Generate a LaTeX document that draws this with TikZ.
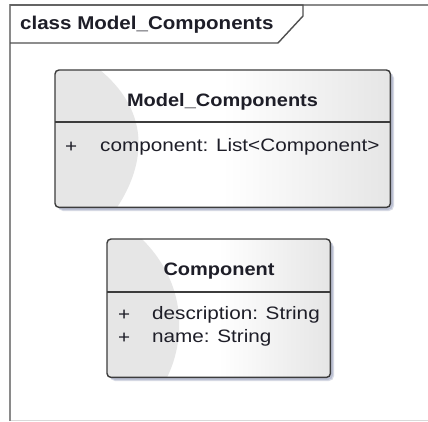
\documentclass[tikz,border=0pt]{standalone}
\usepackage{fontspec}
\usetikzlibrary{calc}
\setmainfont{Liberation Sans}[FakeStretch=1.15]
\newfontfamily\boldwide{Liberation Sans Bold}[FakeStretch=1.11]
\definecolor{framec}{HTML}{8A8A8A}
\definecolor{tabc}{HTML}{505050}
\definecolor{boxborder}{HTML}{3C3C3C}
\definecolor{shadowc}{HTML}{B4BACE}
\definecolor{glossc}{HTML}{E6E6E6}
\definecolor{textc}{HTML}{1E1E28}
\tikzset{
  umlbox/.style={left color=white, right color=black!10, middle color=white, inner sep=0pt, anchor=north west},
  boxedge/.style={draw=boxborder, line width=1.4pt, rounded corners=4pt},
  sepline/.style={draw=boxborder, line width=1.2pt},
  boxshadow/.style={fill=shadowc, rounded corners=5pt},
  gloss/.style={fill=glossc},
  titletext/.style={font=\boldwide\fontsize{18pt}{22pt}\selectfont, inner sep=0pt, text=textc},
  attrtext/.style={font=\fontsize{18pt}{22pt}\selectfont, inner sep=0pt, anchor=west, text=textc},
  labeltext/.style={font=\boldwide\fontsize{18.5pt}{22pt}\selectfont, inner sep=0pt, anchor=west, text=textc}
}
\begin{document}
\begin{tikzpicture}[x=1pt,y=-1pt]
\useasboundingbox (0,0) rectangle (428,421);
\fill[white] (0,0) rectangle (428,421);
% frame
\draw[black!15, line width=0.8pt] (10,420) -- (428,420);
\draw[framec, line width=1.6pt] (10,421) -- (10,5) -- (428,5);
\draw[tabc, line width=1.4pt] (10,5) -- (303,5) -- (303,16) -- (278,43) -- (10,43);
\node[labeltext] (lbl) at (20,25) {class Model\_Components};
% box 1
\fill[boxshadow, opacity=0.5] (58,73) rectangle (394,211);
\fill[boxshadow, opacity=0.8] (58,73) rectangle (393,210);
\node[umlbox, rounded corners=4pt, minimum width=335pt, minimum height=137pt] (mc) at (55,70) {};
\begin{scope}
  \clip[rounded corners=4pt] (mc.north west) rectangle (mc.south east);
  \fill[gloss] (mc.north west) -- ++(45,0) .. controls ++(60,50) and ++(20,-30) .. ($(mc.south west)+(62,0)$) -- (mc.south west) -- cycle;
\end{scope}
\draw[boxedge] (mc.north west) rectangle (mc.south east);
\coordinate (mcsep) at (0,122);
\draw[sepline] (mc.west |- mcsep) -- (mc.east |- mcsep);
\node[titletext] (mctitle) at (222.5,102) {Model\_Components};
\node[attrtext] (mcplus) at (65,147) {+};
\node[attrtext] (mcattr) at (100,147) {component: List<Component>};
% box 2
\fill[boxshadow, opacity=0.5] (110,242) rectangle (334,381);
\fill[boxshadow, opacity=0.8] (110,242) rectangle (333,380);
\node[umlbox, rounded corners=4pt, minimum width=223pt, minimum height=138pt] (cp) at (107,239) {};
\begin{scope}
  \clip[rounded corners=4pt] (cp.north west) rectangle (cp.south east);
  \fill[gloss] (cp.north west) -- ++(35,0) .. controls ++(50,50) and ++(15,-30) .. ($(cp.south west)+(60,0)$) -- (cp.south west) -- cycle;
\end{scope}
\draw[boxedge] (cp.north west) rectangle (cp.south east);
\coordinate (cpsep) at (0,292);
\draw[sepline] (cp.west |- cpsep) -- (cp.east |- cpsep);
\node[titletext] (cptitle) at (219,271) {Component};
\node[attrtext] (cpplus1) at (118,315) {+};
\node[attrtext] (cpattr1) at (152,315) {description: String};
\node[attrtext] (cpplus2) at (118,338) {+};
\node[attrtext] (cpattr2) at (152,338) {name: String};
\end{tikzpicture}
\end{document}
